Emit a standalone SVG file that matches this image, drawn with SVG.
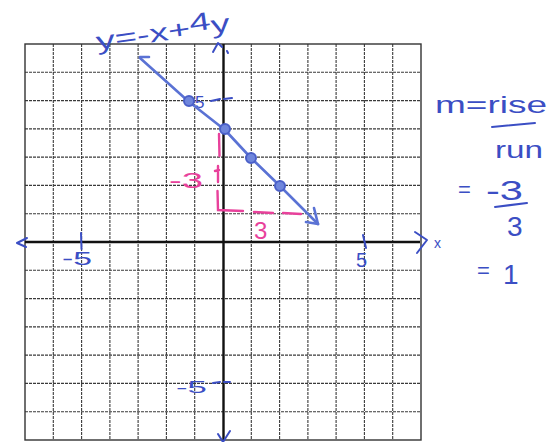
<svg xmlns="http://www.w3.org/2000/svg" width="559" height="442" viewBox="0 0 559 442">
<style>
.grid{fill:none;stroke:#3a3a3a;stroke-width:1.1;stroke-dasharray:3 1}
.border{fill:none;stroke:#333;stroke-width:1.4}
.axis{fill:none;stroke:#111;stroke-width:2.4}
.ink{fill:none;stroke:#3b4ec4;stroke-width:2;stroke-linecap:round;stroke-linejoin:round}
.line{fill:none;stroke:#5a72d4;stroke-width:2.6;stroke-linecap:round;stroke-linejoin:round}
.pt{fill:#6f86dc;stroke:#4a5fc8;stroke-width:2}
.pink{fill:none;stroke:#e8419b;stroke-width:2.4;stroke-linecap:round}
.bt{fill:#3b4ec4;font-family:"Liberation Sans",Arial,sans-serif}
.pt2{fill:#e8419b;font-family:"Liberation Sans",Arial,sans-serif}
</style>
<rect width="559" height="442" fill="#ffffff"/>
<g id="grid">
<path class="grid" d="M53.3 44V440M81.6 44V440M109.9 44V440M138.1 44V440M166.4 44V440M194.7 44V440M251.3 44V440M279.6 44V440M307.9 44V440M336.1 44V440M364.4 44V440M392.7 44V440M25 72.3H421M25 100.6H421M25 128.9H421M25 157.1H421M25 185.4H421M25 213.7H421M25 270.3H421M25 298.6H421M25 326.9H421M25 355.1H421M25 383.4H421M25 411.7H421"/>
<rect class="border" x="25" y="44" width="396" height="396"/>
</g>
<g id="axes">
<path class="axis" d="M25 242H420M223.5 44V441"/>
<path class="ink" d="M27 238L17 243L26 247"/>
<path class="ink" d="M415 232L427 240L417 253"/>
<path class="ink" d="M213 52L218 43L222 47M227 51L228 53"/>
<path class="ink" d="M218 434L223 442L230 431"/>
<text class="bt" x="434" y="248" font-size="14">x</text>
</g>
<g id="ticks">
<path class="ink" d="M81 233L81.5 249"/>
<text class="bt" x="62" y="265" font-size="19" textLength="30" lengthAdjust="spacingAndGlyphs">-5</text>
<path class="ink" d="M363 235L366 248"/>
<text class="bt" x="356" y="267" font-size="20">5</text>
<path class="ink" d="M211 101L220 99M224 99L232 98"/>
<text class="bt" x="195" y="108" font-size="17">5</text>
<path class="ink" d="M213 383L220 382M224 382L230 382"/>
<text class="bt" x="176" y="393" font-size="17" textLength="31" lengthAdjust="spacingAndGlyphs">-5</text>
</g>
<g id="graph-line">
<path class="line" d="M140 58L188 101L225 130L251 158L280 186L318 224"/>
<path class="line" d="M140 57L149 57M318 224L314 208M318 224L306 222"/>
<circle class="pt" cx="189" cy="101" r="5"/>
<circle class="pt" cx="225" cy="129" r="5"/>
<circle class="pt" cx="251" cy="158" r="5"/>
<circle class="pt" cx="280" cy="186" r="5"/>
</g>
<g id="rise-run">
<path class="pink" d="M219 134L219.5 156M218 166L218 182M215 171L219 170M217.5 191L218 210L243 211M254 212L273 213M283 213L301 214"/>
<text class="pt2" x="169" y="188" font-size="22" textLength="34" lengthAdjust="spacingAndGlyphs">-3</text>
<text class="pt2" x="254" y="239" font-size="24">3</text>
</g>
<g id="title">
<text class="bt" x="95" y="41" font-size="25" textLength="135" lengthAdjust="spacingAndGlyphs" transform="rotate(-8 160 30)">y=-x+<tspan dy="-5">4</tspan><tspan dy="5">y</tspan></text>
</g>
<g id="slope-work">
<text class="bt" x="435" y="113" font-size="24" textLength="112" lengthAdjust="spacingAndGlyphs">m=rise</text>
<path class="ink" d="M492 127L535 123"/>
<text class="bt" x="495" y="158" font-size="24" textLength="48" lengthAdjust="spacingAndGlyphs">run</text>
<text class="bt" x="458" y="197" font-size="22">=</text>
<text class="bt" x="486" y="200" font-size="28" textLength="37" lengthAdjust="spacingAndGlyphs">-3</text>
<path class="ink" d="M495 207L527 203"/>
<text class="bt" x="507" y="236" font-size="28">3</text>
<text class="bt" x="477" y="278" font-size="22">=</text>
<text class="bt" x="503" y="284" font-size="28">1</text>
</g>
</svg>
